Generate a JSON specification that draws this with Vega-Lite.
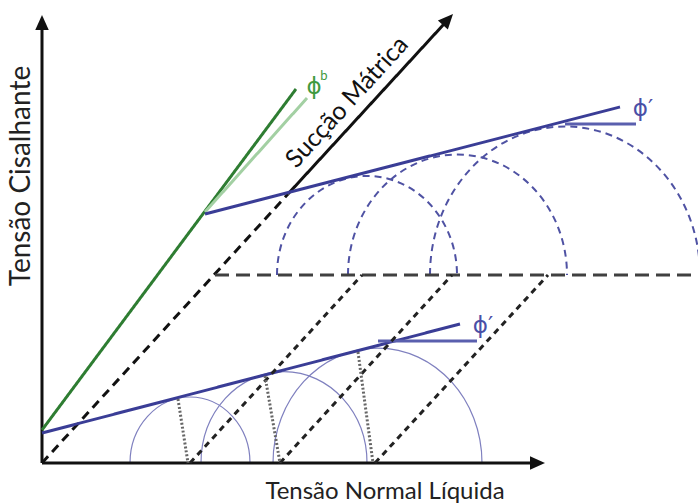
{
  "$schema": "https://vega.github.io/schema/vega-lite/v6.json",
  "width": 698,
  "height": 504,
  "autosize": {"type": "none"},
  "padding": 0,
  "background": "white",
  "config": {"view": {"stroke": null}},
  "datasets": {
    "segments": [
      {"part": "Eixo τ", "kind": "axis", "x": 0, "y": 0, "x2": 0, "y2": 438},
      {"part": "Eixo σ", "kind": "axis", "x": 0, "y": 0, "x2": 493, "y2": 0},
      {"part": "Envoltória φb", "kind": "green", "x": 0, "y": 33, "x2": 254, "y2": 374},
      {"part": "Referência φb", "kind": "greenthin", "x": 163, "y": 251, "x2": 265, "y2": 365},
      {"part": "Sucção", "kind": "suction", "x": 246, "y": 269, "x2": 402, "y2": 439},
      {"part": "Sucção (projeção)", "kind": "suctiondash", "x": 0, "y": 0, "x2": 246, "y2": 269},
      {"part": "Envoltória inferior", "kind": "envelope", "x": 0, "y": 30, "x2": 418, "y2": 139},
      {"part": "Horizontal inferior", "kind": "reference", "x": 336, "y": 122, "x2": 435, "y2": 122},
      {"part": "Envoltória superior", "kind": "envelope", "x": 163, "y": 249, "x2": 578, "y2": 356},
      {"part": "Horizontal superior", "kind": "reference", "x": 523, "y": 339, "x2": 594, "y2": 339},
      {"part": "Plano de sucção", "kind": "plane", "x": 173, "y": 188, "x2": 656, "y2": 188},
      {"part": "Projeção 1", "kind": "oblique", "x": 148, "y": 0, "x2": 320, "y2": 188},
      {"part": "Projeção 2", "kind": "oblique", "x": 238, "y": 0, "x2": 410, "y2": 188},
      {"part": "Projeção 3", "kind": "oblique", "x": 333, "y": 0, "x2": 506, "y2": 188},
      {"part": "Raio 1", "kind": "radius", "x": 136, "y": 64, "x2": 146, "y2": 0},
      {"part": "Raio 2", "kind": "radius", "x": 223, "y": 87, "x2": 238, "y2": 0},
      {"part": "Raio 3", "kind": "radius", "x": 316, "y": 111, "x2": 331, "y2": 0}
    ],
    "circles": [
      {"circle": "Mohr 1", "kind": "mohr", "center": 148, "base": 0, "r": 60},
      {"circle": "Mohr 2", "kind": "mohr", "center": 242, "base": 0, "r": 83},
      {"circle": "Mohr 3", "kind": "mohr", "center": 335.5, "base": 0, "r": 104.5},
      {"circle": "Mohr 1 (sucção)", "kind": "mohrdash", "center": 325, "base": 188, "r": 90},
      {"circle": "Mohr 2 (sucção)", "kind": "mohrdash", "center": 415.5, "base": 188, "r": 109.5},
      {"circle": "Mohr 3 (sucção)", "kind": "mohrdash", "center": 523, "base": 188, "r": 135}
    ],
    "arrows": [
      {"arrow": "τ", "x": 0, "y": 448, "heading": 0},
      {"arrow": "σ", "x": 503, "y": 0, "heading": 90},
      {"arrow": "sucção", "x": 411, "y": 449, "heading": 42.5}
    ],
    "labels": [
      {"role": "ytitle", "text": "Tensão Cisalhante", "x": -20, "y": 287},
      {"role": "xtitle", "text": "Tensão Normal Líquida", "x": 343, "y": -36},
      {"role": "suction", "text": "Sucção Mátrica", "x": 305, "y": 361},
      {"role": "phib", "text": "ϕ", "x": 272, "y": 376},
      {"role": "phibsup", "text": "b", "x": 282, "y": 387},
      {"role": "phi", "text": "ϕ′", "x": 441, "y": 137},
      {"role": "phi", "text": "ϕ′", "x": 601, "y": 354}
    ]
  },
  "layer": [
    {
      "data": {"name": "circles"},
      "transform": [{"filter": "datum.kind === 'mohr'"}],
      "mark": {"type": "point", "shape": "M -1 0 A 1 1.1 0 0 1 1 0", "filled": false, "opacity": 1, "stroke": "#7f80bf", "strokeWidth": 1.2},
      "encoding": {
        "x": {"field": "center", "type": "quantitative", "scale": {"domain": [-42, 656], "nice": false, "zero": false}, "axis": null},
        "y": {"field": "base", "type": "quantitative", "scale": {"domain": [-41, 463], "nice": false, "zero": false}, "axis": null},
        "size": {"field": "r", "type": "quantitative", "scale": {"type": "pow", "exponent": 2, "domain": [0, 200], "range": [0, 160000]}, "legend": null}
      }
    },
    {
      "data": {"name": "circles"},
      "transform": [{"filter": "datum.kind === 'mohrdash'"}],
      "mark": {"type": "point", "shape": "M -1 0 A 1 1.1 0 0 1 1 0", "filled": false, "opacity": 1, "stroke": "#4f52a3", "strokeWidth": 2, "strokeDash": [7, 5]},
      "encoding": {
        "x": {"field": "center", "type": "quantitative", "scale": {"domain": [-42, 656], "nice": false, "zero": false}, "axis": null},
        "y": {"field": "base", "type": "quantitative", "scale": {"domain": [-41, 463], "nice": false, "zero": false}, "axis": null},
        "size": {"field": "r", "type": "quantitative", "scale": {"type": "pow", "exponent": 2, "domain": [0, 200], "range": [0, 160000]}, "legend": null}
      }
    },
    {
      "data": {"name": "segments"},
      "mark": {"type": "rule", "strokeCap": "butt"},
      "encoding": {
        "x": {"field": "x", "type": "quantitative", "scale": {"domain": [-42, 656], "nice": false, "zero": false}, "axis": null},
        "y": {"field": "y", "type": "quantitative", "scale": {"domain": [-41, 463], "nice": false, "zero": false}, "axis": null},
        "x2": {"field": "x2"},
        "y2": {"field": "y2"},
        "color": {"field": "kind", "type": "nominal", "scale": {"domain": ["axis", "green", "greenthin", "suction", "suctiondash", "envelope", "reference", "plane", "oblique", "radius"], "range": ["#111111", "#2e7d32", "#a3d0a3", "#111111", "#111111", "#3a3d96", "#5a5fae", "#404040", "#222222", "#666666"]}, "legend": null},
        "strokeWidth": {"field": "kind", "type": "nominal", "scale": {"domain": ["axis", "green", "greenthin", "suction", "suctiondash", "envelope", "reference", "plane", "oblique", "radius"], "range": [3, 3, 1.2, 2.5, 2.5, 3, 1.5, 2.5, 2, 0.9]}, "legend": null},
        "strokeDash": {"field": "kind", "type": "nominal", "scale": {"domain": ["axis", "green", "greenthin", "suction", "suctiondash", "envelope", "reference", "plane", "oblique", "radius"], "range": [[1, 0], [1, 0], [1, 0], [1, 0], [9, 6], [1, 0], [1, 0], [14, 7], [6, 5], [2, 2]]}, "legend": null}
      }
    },
    {
      "data": {"name": "arrows"},
      "mark": {"type": "point", "shape": "M 0 0 L 0.9 2 L -0.9 2 Z", "filled": true, "opacity": 1, "size": 225, "color": "#111111"},
      "encoding": {
        "x": {"field": "x", "type": "quantitative", "scale": {"domain": [-42, 656], "nice": false, "zero": false}, "axis": null},
        "y": {"field": "y", "type": "quantitative", "scale": {"domain": [-41, 463], "nice": false, "zero": false}, "axis": null},
        "angle": {"field": "heading", "type": "quantitative", "scale": {"domain": [0, 360], "range": [0, 360]}, "legend": null}
      }
    },
    {
      "data": {"name": "labels"},
      "transform": [{"filter": "datum.role === 'ytitle'"}],
      "mark": {"type": "text", "font": "Lato", "fontSize": 28, "angle": -90, "align": "center", "baseline": "middle", "color": "#222222"},
      "encoding": {
        "x": {"field": "x", "type": "quantitative", "scale": {"domain": [-42, 656], "nice": false, "zero": false}, "axis": null},
        "y": {"field": "y", "type": "quantitative", "scale": {"domain": [-41, 463], "nice": false, "zero": false}, "axis": null},
        "text": {"field": "text"}
      }
    },
    {
      "data": {"name": "labels"},
      "transform": [{"filter": "datum.role === 'xtitle'"}],
      "mark": {"type": "text", "font": "Lato", "fontSize": 24, "align": "center", "baseline": "alphabetic", "color": "#222222"},
      "encoding": {
        "x": {"field": "x", "type": "quantitative", "scale": {"domain": [-42, 656], "nice": false, "zero": false}, "axis": null},
        "y": {"field": "y", "type": "quantitative", "scale": {"domain": [-41, 463], "nice": false, "zero": false}, "axis": null},
        "text": {"field": "text"}
      }
    },
    {
      "data": {"name": "labels"},
      "transform": [{"filter": "datum.role === 'suction'"}],
      "mark": {"type": "text", "font": "Lato", "fontSize": 25, "angle": -47.5, "align": "center", "baseline": "middle", "color": "#111111"},
      "encoding": {
        "x": {"field": "x", "type": "quantitative", "scale": {"domain": [-42, 656], "nice": false, "zero": false}, "axis": null},
        "y": {"field": "y", "type": "quantitative", "scale": {"domain": [-41, 463], "nice": false, "zero": false}, "axis": null},
        "text": {"field": "text"}
      }
    },
    {
      "data": {"name": "labels"},
      "transform": [{"filter": "datum.role === 'phib'"}],
      "mark": {"type": "text", "font": "DejaVu Sans", "fontSize": 23, "align": "center", "baseline": "middle", "color": "#3f9a3f"},
      "encoding": {
        "x": {"field": "x", "type": "quantitative", "scale": {"domain": [-42, 656], "nice": false, "zero": false}, "axis": null},
        "y": {"field": "y", "type": "quantitative", "scale": {"domain": [-41, 463], "nice": false, "zero": false}, "axis": null},
        "text": {"field": "text"}
      }
    },
    {
      "data": {"name": "labels"},
      "transform": [{"filter": "datum.role === 'phibsup'"}],
      "mark": {"type": "text", "font": "Lato", "fontSize": 13, "align": "center", "baseline": "middle", "color": "#3f9a3f"},
      "encoding": {
        "x": {"field": "x", "type": "quantitative", "scale": {"domain": [-42, 656], "nice": false, "zero": false}, "axis": null},
        "y": {"field": "y", "type": "quantitative", "scale": {"domain": [-41, 463], "nice": false, "zero": false}, "axis": null},
        "text": {"field": "text"}
      }
    },
    {
      "data": {"name": "labels"},
      "transform": [{"filter": "datum.role === 'phi'"}],
      "mark": {"type": "text", "font": "DejaVu Sans", "fontSize": 23, "align": "center", "baseline": "middle", "color": "#4a4fa6"},
      "encoding": {
        "x": {"field": "x", "type": "quantitative", "scale": {"domain": [-42, 656], "nice": false, "zero": false}, "axis": null},
        "y": {"field": "y", "type": "quantitative", "scale": {"domain": [-41, 463], "nice": false, "zero": false}, "axis": null},
        "text": {"field": "text"}
      }
    }
  ]
}
